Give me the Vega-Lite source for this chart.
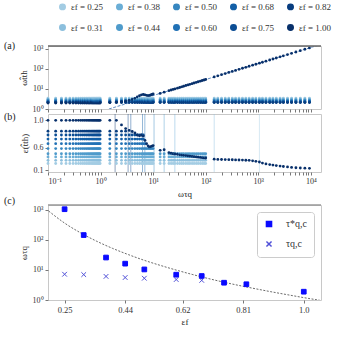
{
"$schema":"https://vega.github.io/schema/vega-lite/v6.json",
"padding":{"left":3,"top":2,"right":2,"bottom":2},
"config":{
"font":"Liberation Serif",
"view":{"stroke":"#c8c8c8"},
"axis":{"grid":false,"domain":false,"labelFont":"Liberation Serif","titleFont":"Liberation Serif","labelFontSize":8,"titleFontSize":9,"titleFontWeight":"normal","tickSize":3,"tickColor":"#777","labelColor":"#333","titleColor":"#222","labelPadding":2,"labelOverlap":false},
"legend":{"labelFont":"Liberation Serif","labelFontSize":9,"labelColor":"#333"},
"title":{"font":"Liberation Serif","fontSize":10,"fontWeight":"normal","color":"#222"}
},
"datasets":{
"tau":[
{"k":"a","e":0.25,"ts":1050,"tc":7.2},
{"k":"b","e":0.31,"ts":145,"tc":7.0},
{"k":"c","e":0.38,"ts":25.9,"tc":6.1},
{"k":"d","e":0.44,"ts":16.2,"tc":5.6},
{"k":"e","e":0.5,"ts":10.4,"tc":5.3},
{"k":"f","e":0.6,"ts":6.95,"tc":4.8},
{"k":"g","e":0.68,"ts":6.28,"tc":4.5},
{"k":"h","e":0.75,"ts":3.76},
{"k":"i","e":0.82,"ts":3.34},
{"k":"j","e":1.0,"ts":1.89}],
"curve":[
{"e":0.2,"v":912},{"e":0.25,"v":363},{"e":0.3,"v":172},{"e":0.35,"v":91},{"e":0.4,"v":52.5},{"e":0.45,"v":32.4},{"e":0.5,"v":20.9},{"e":0.55,"v":14.2},{"e":0.6,"v":9.9},{"e":0.65,"v":7.1},{"e":0.7,"v":5.2},{"e":0.75,"v":3.9},{"e":0.8,"v":3.0},{"e":0.85,"v":2.35},{"e":0.9,"v":1.86},{"e":0.95,"v":1.49},{"e":1.0,"v":1.2},{"e":1.05,"v":0.98}],
"pa":[
{"x":0.1,"a":3.5,"b":3.2,"c":3,"d":2.8,"e":2.6,"f":2.45,"g":2.3,"h":2.2,"i":2.1,"j":2},
{"x":0.14,"a":3.5,"b":3.2,"c":3,"d":2.8,"e":2.6,"f":2.45,"g":2.3,"h":2.2,"i":2.1,"j":2},
{"x":0.18,"a":3.5,"b":3.2,"c":3,"d":2.8,"e":2.6,"f":2.45,"g":2.3,"h":2.2,"i":2.1,"j":2},
{"x":0.22,"a":3.5,"b":3.2,"c":3,"d":2.8,"e":2.6,"f":2.45,"g":2.3,"h":2.2,"i":2.1,"j":2},
{"x":0.26,"a":3.5,"b":3.2,"c":3,"d":2.8,"e":2.6,"f":2.45,"g":2.3,"h":2.2,"i":2.1,"j":2},
{"x":0.3,"a":3.5,"b":3.2,"c":3,"d":2.8,"e":2.6,"f":2.45,"g":2.3,"h":2.2,"i":2.1,"j":2},
{"x":0.34,"a":3.5,"b":3.2,"c":3,"d":2.8,"e":2.6,"f":2.45,"g":2.3,"h":2.2,"i":2.1,"j":2},
{"x":0.38,"a":3.5,"b":3.2,"c":3,"d":2.8,"e":2.6,"f":2.45,"g":2.3,"h":2.2,"i":2.1,"j":2},
{"x":0.42,"a":3.5,"b":3.2,"c":3,"d":2.8,"e":2.6,"f":2.45,"g":2.3,"h":2.2,"i":2.1,"j":2},
{"x":0.46,"a":3.5,"b":3.2,"c":3,"d":2.8,"e":2.6,"f":2.45,"g":2.3,"h":2.2,"i":2.1,"j":2},
{"x":0.5,"a":3.5,"b":3.2,"c":3,"d":2.8,"e":2.6,"f":2.45,"g":2.3,"h":2.2,"i":2.1,"j":2},
{"x":0.54,"a":3.5,"b":3.2,"c":3,"d":2.8,"e":2.6,"f":2.45,"g":2.3,"h":2.2,"i":2.1,"j":2},
{"x":0.58,"a":3.5,"b":3.2,"c":3,"d":2.8,"e":2.6,"f":2.45,"g":2.3,"h":2.2,"i":2.1,"j":2},
{"x":0.62,"a":3.5,"b":3.2,"c":3,"d":2.8,"e":2.6,"f":2.45,"g":2.3,"h":2.2,"i":2.1,"j":2},
{"x":0.66,"a":3.5,"b":3.2,"c":3,"d":2.8,"e":2.6,"f":2.45,"g":2.3,"h":2.2,"i":2.1,"j":2},
{"x":0.7,"a":3.5,"b":3.2,"c":3,"d":2.8,"e":2.6,"f":2.45,"g":2.3,"h":2.2,"i":2.1,"j":2},
{"x":0.74,"a":3.5,"b":3.2,"c":3,"d":2.8,"e":2.6,"f":2.45,"g":2.3,"h":2.2,"i":2.1,"j":2},
{"x":0.78,"a":3.5,"b":3.2,"c":3,"d":2.8,"e":2.6,"f":2.45,"g":2.3,"h":2.2,"i":2.1,"j":2},
{"x":0.82,"a":3.5,"b":3.2,"c":3,"d":2.8,"e":2.6,"f":2.45,"g":2.3,"h":2.2,"i":2.1,"j":2},
{"x":0.86,"a":3.5,"b":3.2,"c":3,"d":2.8,"e":2.6,"f":2.45,"g":2.3,"h":2.2,"i":2.1,"j":2},
{"x":0.9,"a":3.5,"b":3.2,"c":3,"d":2.8,"e":2.6,"f":2.45,"g":2.3,"h":2.2,"i":2.1,"j":2},
{"x":0.94,"a":3.5,"b":3.2,"c":3,"d":2.8,"e":2.6,"f":2.45,"g":2.3,"h":2.2,"i":2.1,"j":2},
{"x":0.98,"a":3.5,"b":3.2,"c":3,"d":2.8,"e":2.6,"f":2.45,"g":2.3,"h":2.2,"i":2.1,"j":2},
{"x":1.5,"a":3.5,"b":3.2,"c":3,"d":2.8,"e":2.6,"f":2.45,"g":2.3,"h":2.2,"i":2.1,"j":2.1},
{"x":2,"a":3.5,"b":3.2,"c":3,"d":2.8,"e":2.6,"f":2.45,"g":2.3,"h":2.2,"i":2.1,"j":2.2},
{"x":2.5,"a":3.5,"b":3.2,"c":3,"d":2.8,"e":2.6,"f":2.45,"g":2.3,"h":2.2,"i":2.1,"j":2.35},
{"x":3,"a":3.5,"b":3.2,"c":3,"d":2.8,"e":2.6,"f":2.45,"g":2.3,"h":2.2,"i":2.1,"j":2.5},
{"x":3.5,"a":3.5,"b":3.2,"c":3,"d":2.8,"e":2.6,"f":2.45,"g":2.3,"h":2.2,"i":2.1,"j":2.7},
{"x":4,"a":3.5,"b":3.2,"c":3,"d":2.8,"e":2.6,"f":2.45,"g":2.3,"h":2.2,"i":2.1,"j":3.0},
{"x":4.5,"a":3.5,"b":3.2,"c":3,"d":2.8,"e":2.6,"f":2.45,"g":2.3,"h":2.2,"i":2.1,"j":3.4},
{"x":5,"a":3.5,"b":3.2,"c":3,"d":2.8,"e":2.6,"f":2.45,"g":2.3,"h":2.2,"i":2.1,"j":4.0},
{"x":5.5,"a":3.5,"b":3.2,"c":3,"d":2.8,"e":2.6,"f":2.45,"g":2.3,"h":2.2,"i":2.1,"j":4.6},
{"x":6,"a":3.5,"b":3.2,"c":3,"d":2.8,"e":2.6,"f":2.45,"g":2.3,"h":2.2,"i":2.1,"j":5.1},
{"x":6.5,"a":3.5,"b":3.2,"c":3,"d":2.8,"e":2.6,"f":2.45,"g":2.3,"h":2.2,"i":2.1,"j":5.3},
{"x":7,"a":3.5,"b":3.2,"c":3,"d":2.8,"e":2.6,"f":2.45,"g":2.3,"h":2.2,"i":2.1,"j":5.1},
{"x":7.5,"a":3.5,"b":3.2,"c":3,"d":2.8,"e":2.6,"f":2.45,"g":2.3,"h":2.2,"i":2.1,"j":4.8},
{"x":8,"a":3.5,"b":3.2,"c":3,"d":2.8,"e":2.6,"f":2.45,"g":2.3,"h":2.2,"i":2.1,"j":4.7},
{"x":8.5,"a":3.5,"b":3.2,"c":3,"d":2.8,"e":2.6,"f":2.45,"g":2.3,"h":2.2,"i":2.1,"j":4.8},
{"x":9,"a":3.5,"b":3.2,"c":3,"d":2.8,"e":2.6,"f":2.45,"g":2.3,"h":2.2,"i":2.1,"j":5.0},
{"x":9.5,"a":3.5,"b":3.2,"c":3,"d":2.8,"e":2.6,"f":2.45,"g":2.3,"h":2.2,"i":2.1,"j":5.3},
{"x":10,"a":3.5,"b":3.2,"c":3,"d":2.8,"e":2.6,"f":2.45,"g":2.3,"h":2.2,"i":2.1,"j":5.6},
{"x":13.6,"a":3.5,"b":3.2,"c":3,"d":2.8,"e":2.6,"f":2.45,"g":2.3,"h":2.2,"i":2.1,"j":6.0},
{"x":16.2,"a":3.5,"b":3.2,"c":3,"d":2.8,"e":2.6,"f":2.45,"g":2.3,"h":2.2,"i":2.1,"j":6.9},
{"x":20,"a":3.5,"b":3.2,"c":3,"d":2.8,"e":2.6,"f":2.45,"g":2.3,"h":2.2,"i":2.1,"j":8.2},
{"x":22,"a":3.5,"b":3.2,"c":3,"d":2.8,"e":2.6,"f":2.45,"g":2.3,"h":2.2,"i":2.1,"j":8.85},
{"x":24,"a":3.5,"b":3.2,"c":3,"d":2.8,"e":2.6,"f":2.45,"g":2.3,"h":2.2,"i":2.1,"j":9.5},
{"x":26,"a":3.5,"b":3.2,"c":3,"d":2.8,"e":2.6,"f":2.45,"g":2.3,"h":2.2,"i":2.1,"j":10.1},
{"x":29,"a":3.5,"b":3.2,"c":3,"d":2.8,"e":2.6,"f":2.45,"g":2.3,"h":2.2,"i":2.1,"j":11.0},
{"x":32,"a":3.5,"b":3.2,"c":3,"d":2.8,"e":2.6,"f":2.45,"g":2.3,"h":2.2,"i":2.1,"j":11.9},
{"x":35,"a":3.5,"b":3.2,"c":3,"d":2.8,"e":2.6,"f":2.45,"g":2.3,"h":2.2,"i":2.1,"j":12.8},
{"x":38,"a":3.5,"b":3.2,"c":3,"d":2.8,"e":2.6,"f":2.45,"g":2.3,"h":2.2,"i":2.1,"j":13.7},
{"x":42,"a":3.5,"b":3.2,"c":3,"d":2.8,"e":2.6,"f":2.45,"g":2.3,"h":2.2,"i":2.1,"j":14.9},
{"x":46,"a":3.5,"b":3.2,"c":3,"d":2.8,"e":2.6,"f":2.45,"g":2.3,"h":2.2,"i":2.1,"j":16.0},
{"x":50,"a":3.5,"b":3.2,"c":3,"d":2.8,"e":2.6,"f":2.45,"g":2.3,"h":2.2,"i":2.1,"j":17.1},
{"x":55,"a":3.5,"b":3.2,"c":3,"d":2.8,"e":2.6,"f":2.45,"g":2.3,"h":2.2,"i":2.1,"j":18.4},
{"x":60,"a":3.5,"b":3.2,"c":3,"d":2.8,"e":2.6,"f":2.45,"g":2.3,"h":2.2,"i":2.1,"j":19.8},
{"x":66,"a":3.5,"b":3.2,"c":3,"d":2.8,"e":2.6,"f":2.45,"g":2.3,"h":2.2,"i":2.1,"j":21.3},
{"x":72,"a":3.5,"b":3.2,"c":3,"d":2.8,"e":2.6,"f":2.45,"g":2.3,"h":2.2,"i":2.1,"j":22.9},
{"x":79,"a":3.5,"b":3.2,"c":3,"d":2.8,"e":2.6,"f":2.45,"g":2.3,"h":2.2,"i":2.1,"j":24.6},
{"x":86,"a":3.5,"b":3.2,"c":3,"d":2.8,"e":2.6,"f":2.45,"g":2.3,"h":2.2,"i":2.1,"j":26.4},
{"x":93,"a":3.5,"b":3.2,"c":3,"d":2.8,"e":2.6,"f":2.45,"g":2.3,"h":2.2,"i":2.1,"j":28.1},
{"x":100,"a":3.5,"b":3.2,"c":3,"d":2.8,"e":2.6,"f":2.45,"g":2.3,"h":2.2,"i":2.1,"j":29.7},
{"x":145,"a":3.5,"b":3.2,"c":3,"d":2.8,"e":2.6,"f":2.45,"g":2.3,"h":2.2,"i":2.1,"j":40},
{"x":170,"a":3.5,"b":3.2,"c":3,"d":2.8,"e":2.6,"f":2.45,"g":2.3,"h":2.2,"i":2.1,"j":45.5},
{"x":200,"a":3.5,"b":3.2,"c":3,"d":2.8,"e":2.6,"f":2.45,"g":2.3,"h":2.2,"i":2.1,"j":51.8},
{"x":235,"a":3.5,"b":3.2,"c":3,"d":2.8,"e":2.6,"f":2.45,"g":2.3,"h":2.2,"i":2.1,"j":58.9},
{"x":275,"a":3.5,"b":3.2,"c":3,"d":2.8,"e":2.6,"f":2.45,"g":2.3,"h":2.2,"i":2.1,"j":66.8},
{"x":320,"a":3.5,"b":3.2,"c":3,"d":2.8,"e":2.6,"f":2.45,"g":2.3,"h":2.2,"i":2.1,"j":75.4},
{"x":370,"a":3.5,"b":3.2,"c":3,"d":2.8,"e":2.6,"f":2.45,"g":2.3,"h":2.2,"i":2.1,"j":84.7},
{"x":430,"a":3.5,"b":3.2,"c":3,"d":2.8,"e":2.6,"f":2.45,"g":2.3,"h":2.2,"i":2.1,"j":95.5},
{"x":500,"a":3.5,"b":3.2,"c":3,"d":2.8,"e":2.6,"f":2.45,"g":2.3,"h":2.2,"i":2.1,"j":108},
{"x":580,"a":3.5,"b":3.2,"c":3,"d":2.8,"e":2.6,"f":2.45,"g":2.3,"h":2.2,"i":2.1,"j":121},
{"x":670,"a":3.5,"b":3.2,"c":3,"d":2.8,"e":2.6,"f":2.45,"g":2.3,"h":2.2,"i":2.1,"j":136},
{"x":780,"a":3.5,"b":3.2,"c":3,"d":2.8,"e":2.6,"f":2.45,"g":2.3,"h":2.2,"i":2.1,"j":154},
{"x":900,"a":3.5,"b":3.2,"c":3,"d":2.8,"e":2.6,"f":2.45,"g":2.3,"h":2.2,"i":2.1,"j":172},
{"x":1050,"a":3.5,"b":3.2,"c":3,"d":2.8,"e":2.6,"f":2.45,"g":2.3,"h":2.2,"i":2.1,"j":195},
{"x":1200,"a":3.5,"b":3.2,"c":3,"d":2.8,"e":2.6,"f":2.45,"g":2.3,"h":2.2,"i":2.1,"j":217},
{"x":1400,"a":3.5,"b":3.2,"c":3,"d":2.8,"e":2.6,"f":2.45,"g":2.3,"h":2.2,"i":2.1,"j":245},
{"x":1650,"a":3.5,"b":3.2,"c":3,"d":2.8,"e":2.6,"f":2.45,"g":2.3,"h":2.2,"i":2.1,"j":280},
{"x":1900,"a":3.5,"b":3.2,"c":3,"d":2.8,"e":2.6,"f":2.45,"g":2.3,"h":2.2,"i":2.1,"j":313},
{"x":2200,"a":3.5,"b":3.2,"c":3,"d":2.8,"e":2.6,"f":2.45,"g":2.3,"h":2.2,"i":2.1,"j":352},
{"x":2600,"a":3.5,"b":3.2,"c":3,"d":2.8,"e":2.6,"f":2.45,"g":2.3,"h":2.2,"i":2.1,"j":403},
{"x":3000,"a":3.5,"b":3.2,"c":3,"d":2.8,"e":2.6,"f":2.45,"g":2.3,"h":2.2,"i":2.1,"j":452},
{"x":3600,"a":3.5,"b":3.2,"c":3,"d":2.8,"e":2.6,"f":2.45,"g":2.3,"h":2.2,"i":2.1,"j":523},
{"x":4300,"a":3.5,"b":3.2,"c":3,"d":2.8,"e":2.6,"f":2.45,"g":2.3,"h":2.2,"i":2.1,"j":603},
{"x":5200,"a":3.5,"b":3.2,"c":3,"d":2.8,"e":2.6,"f":2.45,"g":2.3,"h":2.2,"i":2.1,"j":702},
{"x":6300,"a":3.5,"b":3.2,"c":3,"d":2.8,"e":2.6,"f":2.45,"g":2.3,"h":2.2,"i":2.1,"j":818},
{"x":7700,"a":3.5,"b":3.2,"c":3,"d":2.8,"e":2.6,"f":2.45,"g":2.3,"h":2.2,"i":2.1,"j":960},
{"x":9400,"a":3.5,"b":3.2,"c":3,"d":2.8,"e":2.6,"f":2.45,"g":2.3,"h":2.2,"i":2.1,"j":1127}],
"pb":[
{"x":0.1,"a":0.3,"b":0.37,"c":0.44,"d":0.5,"e":0.59,"f":0.67,"g":0.74,"h":0.8,"i":0.855,"j":1},
{"x":0.14,"a":0.3,"b":0.37,"c":0.44,"d":0.5,"e":0.59,"f":0.67,"g":0.74,"h":0.8,"i":0.855,"j":1},
{"x":0.18,"a":0.3,"b":0.37,"c":0.44,"d":0.5,"e":0.59,"f":0.67,"g":0.74,"h":0.8,"i":0.855,"j":1},
{"x":0.22,"a":0.3,"b":0.37,"c":0.44,"d":0.5,"e":0.59,"f":0.67,"g":0.74,"h":0.8,"i":0.855,"j":1},
{"x":0.26,"a":0.3,"b":0.37,"c":0.44,"d":0.5,"e":0.59,"f":0.67,"g":0.74,"h":0.8,"i":0.855,"j":1},
{"x":0.3,"a":0.3,"b":0.37,"c":0.44,"d":0.5,"e":0.59,"f":0.67,"g":0.74,"h":0.8,"i":0.855,"j":1},
{"x":0.34,"a":0.3,"b":0.37,"c":0.44,"d":0.5,"e":0.59,"f":0.67,"g":0.74,"h":0.8,"i":0.855,"j":1},
{"x":0.38,"a":0.3,"b":0.37,"c":0.44,"d":0.5,"e":0.59,"f":0.67,"g":0.74,"h":0.8,"i":0.855,"j":1},
{"x":0.42,"a":0.3,"b":0.37,"c":0.44,"d":0.5,"e":0.59,"f":0.67,"g":0.74,"h":0.8,"i":0.855,"j":1},
{"x":0.46,"a":0.3,"b":0.37,"c":0.44,"d":0.5,"e":0.59,"f":0.67,"g":0.74,"h":0.8,"i":0.855,"j":1},
{"x":0.5,"a":0.3,"b":0.37,"c":0.44,"d":0.5,"e":0.59,"f":0.67,"g":0.74,"h":0.8,"i":0.855,"j":1},
{"x":0.54,"a":0.3,"b":0.37,"c":0.44,"d":0.5,"e":0.59,"f":0.67,"g":0.74,"h":0.8,"i":0.855,"j":1},
{"x":0.58,"a":0.3,"b":0.37,"c":0.44,"d":0.5,"e":0.59,"f":0.67,"g":0.74,"h":0.8,"i":0.855,"j":1},
{"x":0.62,"a":0.3,"b":0.37,"c":0.44,"d":0.5,"e":0.59,"f":0.67,"g":0.74,"h":0.8,"i":0.855,"j":1},
{"x":0.66,"a":0.3,"b":0.37,"c":0.44,"d":0.5,"e":0.59,"f":0.67,"g":0.74,"h":0.8,"i":0.855,"j":1},
{"x":0.7,"a":0.3,"b":0.37,"c":0.44,"d":0.5,"e":0.59,"f":0.67,"g":0.74,"h":0.8,"i":0.855,"j":1},
{"x":0.74,"a":0.3,"b":0.37,"c":0.44,"d":0.5,"e":0.59,"f":0.67,"g":0.74,"h":0.8,"i":0.855,"j":1},
{"x":0.78,"a":0.3,"b":0.37,"c":0.44,"d":0.5,"e":0.59,"f":0.67,"g":0.74,"h":0.8,"i":0.855,"j":1},
{"x":0.82,"a":0.3,"b":0.37,"c":0.44,"d":0.5,"e":0.59,"f":0.67,"g":0.74,"h":0.8,"i":0.855,"j":1},
{"x":0.86,"a":0.3,"b":0.37,"c":0.44,"d":0.5,"e":0.59,"f":0.67,"g":0.74,"h":0.8,"i":0.855,"j":1},
{"x":0.9,"a":0.3,"b":0.37,"c":0.44,"d":0.5,"e":0.59,"f":0.67,"g":0.74,"h":0.8,"i":0.855,"j":1},
{"x":0.94,"a":0.3,"b":0.37,"c":0.44,"d":0.5,"e":0.59,"f":0.67,"g":0.74,"h":0.8,"i":0.855,"j":1},
{"x":0.98,"a":0.3,"b":0.37,"c":0.44,"d":0.5,"e":0.59,"f":0.67,"g":0.74,"h":0.8,"i":0.855,"j":1},
{"x":1.5,"a":0.3,"b":0.37,"c":0.44,"d":0.5,"e":0.59,"f":0.67,"g":0.74,"h":0.8,"i":0.855,"j":1},
{"x":2,"a":0.3,"b":0.37,"c":0.44,"d":0.5,"e":0.59,"f":0.67,"g":0.74,"h":0.8,"i":0.855,"j":1},
{"x":2.5,"a":0.3,"b":0.37,"c":0.44,"d":0.5,"e":0.59,"f":0.67,"g":0.74,"h":0.8,"i":0.855,"j":0.94},
{"x":3,"a":0.3,"b":0.37,"c":0.44,"d":0.5,"e":0.59,"f":0.67,"g":0.74,"h":0.8,"i":0.855,"j":0.89},
{"x":3.5,"a":0.3,"b":0.37,"c":0.44,"d":0.5,"e":0.59,"f":0.67,"g":0.74,"h":0.8,"j":0.865},
{"x":4,"a":0.3,"b":0.37,"c":0.44,"d":0.5,"e":0.59,"f":0.67,"g":0.74,"h":0.8,"j":0.85},
{"x":4.5,"a":0.3,"b":0.37,"c":0.44,"d":0.5,"e":0.59,"f":0.67,"g":0.74,"h":0.8,"j":0.83},
{"x":5,"a":0.3,"b":0.37,"c":0.44,"d":0.5,"e":0.59,"f":0.67,"g":0.74,"h":0.8,"j":0.8},
{"x":5.5,"a":0.3,"b":0.37,"c":0.44,"d":0.5,"e":0.59,"f":0.67,"g":0.74,"h":0.8,"j":0.79},
{"x":6,"a":0.3,"b":0.37,"c":0.44,"d":0.5,"e":0.59,"f":0.67,"g":0.74,"h":0.8,"j":0.8},
{"x":6.5,"a":0.3,"b":0.37,"c":0.44,"d":0.5,"e":0.59,"f":0.67,"g":0.74,"h":0.8,"j":0.785},
{"x":7,"a":0.3,"b":0.37,"c":0.44,"d":0.5,"e":0.59,"f":0.67,"j":0.72},
{"x":7.5,"a":0.3,"b":0.37,"c":0.44,"d":0.5,"e":0.59,"j":0.67},
{"x":8,"a":0.3,"b":0.37,"c":0.44,"d":0.5,"e":0.59,"j":0.635},
{"x":8.5,"a":0.3,"b":0.37,"c":0.44,"d":0.5,"e":0.59,"j":0.615},
{"x":9,"a":0.3,"b":0.37,"c":0.44,"d":0.5,"e":0.59,"j":0.62},
{"x":9.5,"a":0.3,"b":0.37,"c":0.44,"d":0.5,"e":0.59,"j":0.63},
{"x":10,"a":0.3,"b":0.37,"c":0.44,"d":0.5,"e":0.59,"j":0.64},
{"x":13.6,"a":0.3,"b":0.37,"c":0.44,"d":0.5,"j":0.56},
{"x":16.2,"a":0.3,"b":0.37,"c":0.44,"d":0.5,"j":0.57},
{"x":20,"a":0.3,"b":0.37,"c":0.44,"d":0.5,"j":0.52},
{"x":22,"a":0.3,"b":0.37,"c":0.44,"d":0.5,"j":0.51},
{"x":24,"a":0.3,"b":0.37,"c":0.44,"d":0.5,"j":0.5},
{"x":26,"a":0.3,"b":0.37,"c":0.44,"d":0.5,"j":0.495},
{"x":29,"a":0.3,"b":0.37,"c":0.44,"d":0.5,"j":0.49},
{"x":32,"a":0.3,"b":0.37,"c":0.44,"d":0.5,"j":0.48},
{"x":35,"a":0.3,"b":0.37,"c":0.44,"d":0.5,"j":0.475},
{"x":38,"a":0.3,"b":0.37,"c":0.44,"d":0.5,"j":0.47},
{"x":42,"a":0.3,"b":0.37,"c":0.44,"d":0.5,"j":0.465},
{"x":46,"a":0.3,"b":0.37,"c":0.44,"d":0.5,"j":0.46},
{"x":50,"a":0.3,"b":0.37,"c":0.44,"d":0.5,"j":0.455},
{"x":55,"a":0.3,"b":0.37,"c":0.44,"d":0.5,"j":0.45},
{"x":60,"a":0.3,"b":0.37,"c":0.44,"d":0.5,"j":0.445},
{"x":66,"a":0.3,"b":0.37,"c":0.44,"d":0.5,"j":0.44},
{"x":72,"a":0.3,"b":0.37,"c":0.44,"d":0.5,"j":0.435},
{"x":79,"a":0.3,"b":0.37,"c":0.44,"d":0.5,"j":0.43},
{"x":86,"a":0.3,"b":0.37,"c":0.44,"d":0.5,"j":0.425},
{"x":93,"a":0.3,"b":0.37,"c":0.44,"d":0.5,"j":0.42},
{"x":100,"a":0.3,"b":0.37,"c":0.44,"d":0.5,"j":0.418},
{"x":145,"j":0.395},{"x":170,"j":0.39},{"x":200,"j":0.388},{"x":235,"j":0.386},{"x":275,"j":0.384},{"x":320,"j":0.383},{"x":370,"j":0.38},{"x":430,"j":0.378},{"x":500,"j":0.376},{"x":580,"j":0.373},{"x":670,"j":0.37},{"x":780,"j":0.36},{"x":900,"j":0.35},{"x":1050,"j":0.335},{"x":1200,"j":0.31},{"x":1400,"j":0.29},{"x":1650,"j":0.275},{"x":1900,"j":0.262},{"x":2200,"j":0.25},{"x":2600,"j":0.235},{"x":3000,"j":0.225},{"x":3600,"j":0.212},{"x":4300,"j":0.2},{"x":5200,"j":0.19},{"x":6300,"j":0.182},{"x":7700,"j":0.176},{"x":9400,"j":0.172}]
},
"spacing":-4,
"resolve":{"scale":{"x":"independent","y":"independent","shape":"independent","fill":"independent","stroke":"independent"}},
"vconcat":[
{
"width":273,"height":63,
"title":{"text":"(a)","anchor":"start","frame":"group","offset":-6,"dx":-44},
"layer":[
{"data":{"values":[{"x":1.44,"y":1},{"x":15600,"y":1680}]},
 "mark":{"type":"line","clip":true,"strokeWidth":0.8,"strokeDash":[3,1.5],"color":"#3a6fb0"},
 "encoding":{"x":{"field":"x","type":"quantitative","scale":{"type":"log","domain":[0.1,15600],"nice":false},"axis":{"values":[0.1,0.2,0.3,0.4,0.5,0.6,0.7,0.8,0.9,1,2,3,4,5,6,7,8,9,10,20,30,40,50,60,70,80,90,100,200,300,400,500,600,700,800,900,1000,2000,3000,4000,5000,6000,7000,8000,9000,10000],"labels":false,"title":null}},
  "y":{"field":"y","type":"quantitative","scale":{"type":"log","domain":[1,1400],"nice":false},"axis":{"values":[1,10,100,1000],"labelExpr":"'10' + ['⁰','¹','²','³','⁴'][round(log(datum.value)/LN10)]","title":"ωt̂th"}}}},
{"data":{"name":"pa"},
 "transform":[{"fold":["a","b","c","d","e","f","g","h","i","j"],"as":["k","y"]}],
 "mark":{"type":"circle","size":8,"opacity":1},
 "encoding":{"x":{"field":"x","type":"quantitative","scale":{"type":"log","domain":[0.1,15600],"nice":false},"axis":{"values":[0.1,0.2,0.3,0.4,0.5,0.6,0.7,0.8,0.9,1,2,3,4,5,6,7,8,9,10,20,30,40,50,60,70,80,90,100,200,300,400,500,600,700,800,900,1000,2000,3000,4000,5000,6000,7000,8000,9000,10000],"labels":false,"title":null}},
  "y":{"field":"y","type":"quantitative","scale":{"type":"log","domain":[1,1400],"nice":false},"axis":{"values":[1,10,100,1000],"labelExpr":"'10' + ['⁰','¹','²','³','⁴'][round(log(datum.value)/LN10)]","title":"ωt̂th"}},
  "color":{"field":"k","type":"nominal","scale":{"domain":["a","c","e","g","i","b","d","f","h","j"],"range":["#a3cce3","#6baed6","#3787c0","#135fa7","#083d7f","#8cbfdd","#4f9bcb","#2171b5","#0b4d94","#08306b"]},
   "legend":{"orient":"top","offset":6,"columns":5,"title":null,"symbolType":"circle","symbolSize":30,"symbolOffset":10,"columnPadding":1,"rowPadding":8,"labelFontSize":9,"labelExpr":"'εf = ' + ['0.25','0.31','0.38','0.44','0.50','0.60','0.68','0.75','0.82','1.00'][indexof('abcdefghij', datum.label)]"}}}},
{"data":{"values":[{}]},"mark":{"type":"rule","color":"#666","strokeWidth":1.5},"encoding":{"y":{"datum":1400}}}
]},
{
"width":273,"height":58,
"title":{"text":"(b)","anchor":"start","frame":"group","offset":-8,"dx":-44},
"layer":[
{"data":{"name":"tau"},
 "mark":{"type":"rule","strokeWidth":1,"opacity":0.45},
 "encoding":{"x":{"field":"ts","type":"quantitative","scale":{"type":"log","domain":[0.1,15600],"nice":false},"axis":{"values":[0.1,0.2,0.3,0.4,0.5,0.6,0.7,0.8,0.9,1,2,3,4,5,6,7,8,9,10,20,30,40,50,60,70,80,90,100,200,300,400,500,600,700,800,900,1000,2000,3000,4000,5000,6000,7000,8000,9000,10000],"labelExpr":"abs(log(datum.value)/LN10 - round(log(datum.value)/LN10)) < 0.001 ? '10' + ['⁻¹','⁰','¹','²','³','⁴'][round(log(datum.value)/LN10)+1] : ''","title":"ωτq"}},
  "color":{"field":"k","type":"nominal","scale":{"domain":["a","c","e","g","i","b","d","f","h","j"],"range":["#a3cce3","#6baed6","#3787c0","#135fa7","#083d7f","#8cbfdd","#4f9bcb","#2171b5","#0b4d94","#08306b"]}}}},
{"data":{"name":"pb"},
 "transform":[{"fold":["a","b","c","d","e","f","g","h","i","j"],"as":["k","y"]}],
 "mark":{"type":"circle","size":8,"opacity":1},
 "encoding":{"x":{"field":"x","type":"quantitative","scale":{"type":"log","domain":[0.1,15600],"nice":false},"axis":{"values":[0.1,0.2,0.3,0.4,0.5,0.6,0.7,0.8,0.9,1,2,3,4,5,6,7,8,9,10,20,30,40,50,60,70,80,90,100,200,300,400,500,600,700,800,900,1000,2000,3000,4000,5000,6000,7000,8000,9000,10000],"labelExpr":"abs(log(datum.value)/LN10 - round(log(datum.value)/LN10)) < 0.001 ? '10' + ['⁻¹','⁰','¹','²','³','⁴'][round(log(datum.value)/LN10)+1] : ''","title":"ωτq"}},
  "y":{"field":"y","type":"quantitative","scale":{"type":"pow","exponent":1.5,"domain":[0,1.08],"nice":false,"zero":false},"axis":{"values":[0.1,0.6,1.0],"format":".1f","title":"ε(t̂th)"}},
  "color":{"field":"k","type":"nominal","scale":{"domain":["a","c","e","g","i","b","d","f","h","j"],"range":["#a3cce3","#6baed6","#3787c0","#135fa7","#083d7f","#8cbfdd","#4f9bcb","#2171b5","#0b4d94","#08306b"]}}}}
]},
{
"width":273,"height":95,
"title":{"text":"(c)","anchor":"start","frame":"group","offset":-2,"dx":-44},
"layer":[
{"data":{"name":"curve"},
 "mark":{"type":"line","clip":true,"strokeWidth":0.8,"strokeDash":[2,1.5],"color":"#444","interpolate":"monotone"},
 "encoding":{"x":{"field":"e","type":"quantitative","scale":{"domain":[0.198,1.054],"nice":false,"zero":false},"axis":{"values":[0.25,0.44,0.62,0.81,1.0],"labelExpr":"datum.value == 1 ? '1.0' : format(datum.value, '.2f')","title":"εf","labelFontSize":8.5}},
  "y":{"field":"v","type":"quantitative","scale":{"type":"log","domain":[1,1450],"nice":false},"axis":{"values":[1,10,100,1000],"labelExpr":"'10' + ['⁰','¹','²','³','⁴'][round(log(datum.value)/LN10)]","title":"ωτq"}}}},
{"data":{"name":"tau"},
 "transform":[{"fold":["ts","tc"],"as":["m","v"]}],
 "mark":{"type":"point","strokeWidth":1,"opacity":1},
 "encoding":{"x":{"field":"e","type":"quantitative","scale":{"domain":[0.198,1.054],"nice":false,"zero":false},"axis":{"values":[0.25,0.44,0.62,0.81,1.0],"labelExpr":"datum.value == 1 ? '1.0' : format(datum.value, '.2f')","title":"εf","labelFontSize":8.5}},
  "y":{"field":"v","type":"quantitative","scale":{"type":"log","domain":[1,1450],"nice":false},"axis":{"values":[1,10,100,1000],"labelExpr":"'10' + ['⁰','¹','²','³','⁴'][round(log(datum.value)/LN10)]","title":"ωτq"}},
  "shape":{"field":"m","type":"nominal","title":null,"scale":{"domain":["ts","tc"],"range":["square","M-1,-1L1,1M-1,1L1,-1"]},
   "legend":{"orient":"top-right","offset":7,"padding":7,"strokeColor":"#ccc","fillColor":"white","cornerRadius":3,"rowPadding":8,"labelFontSize":10,"symbolSize":26,"labelOffset":12,"labelExpr":"datum.label == 'ts' ? 'τ*q,c' : 'τq,c'"}},
  "fill":{"field":"m","type":"nominal","title":null,"scale":{"domain":["ts","tc"],"range":["#0a0aff","rgba(0,0,0,0)"]}},
  "stroke":{"field":"m","type":"nominal","title":null,"scale":{"domain":["ts","tc"],"range":["#0a0aff","#5050d8"]}},
  "size":{"value":22}}},
{"data":{"values":[{}]},"mark":{"type":"rule","color":"#999","strokeWidth":1.5},"encoding":{"y":{"datum":1450}}}
]}
]
}
